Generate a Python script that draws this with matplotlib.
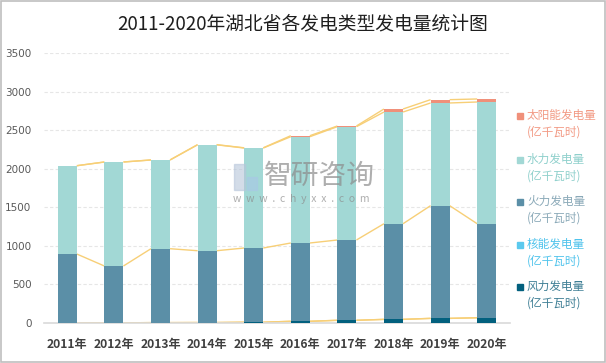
import matplotlib
matplotlib.use("Agg")
import matplotlib.pyplot as plt
from matplotlib.patches import Rectangle
import numpy as np

plt.rcParams['font.family'] = ['Noto Sans CJK SC', 'DejaVu Sans']

years = ['2011年', '2012年', '2013年', '2014年', '2015年', '2016年', '2017年', '2018年', '2019年', '2020年']
wind = [0, 2, 5, 6, 10, 22, 35, 47, 60, 68]
nuclear = [0, 0, 0, 0, 0, 0, 0, 0, 0, 0]
thermal = [894, 737, 958, 931, 962, 1015, 1041, 1240, 1461, 1219]
hydro = [1145, 1348, 1150, 1373, 1296, 1378, 1469, 1448, 1331, 1578]
solar = [0, 0, 1, 2, 3, 13, 9, 39, 43, 39]

series_names = ['风力发电量\n(亿千瓦时)', '核能发电量\n(亿千瓦时)', '火力发电量\n(亿千瓦时)',
                '水力发电量\n(亿千瓦时)', '太阳能发电量\n(亿千瓦时)']
series_vals = [wind, nuclear, thermal, hydro, solar]
colors = ['#02607E', '#5BC9EE', '#5B8FA7', '#A2D8D5', '#F0907A']
text_colors = ['#3F7F95', '#4FC3EC', '#8AA9B8', '#8FD0CC', '#F29A84']

fig = plt.figure(figsize=(6.06, 3.63), dpi=100)
ax = fig.add_axes([44/606, 1-323/363, 466/606, 270/363])

x = np.arange(len(years))
w = 0.41
bottom = np.zeros(len(years))
levels = []
for vals, c in zip(series_vals, colors):
    v = np.array(vals, dtype=float)
    ax.bar(x, v, w, bottom=bottom, color=c, zorder=3, linewidth=0)
    bottom = bottom + v
    levels.append(bottom.copy())

# series lines connecting stack tops
for lev in levels:
    for i in range(len(years)-1):
        ax.plot([x[i]+w/2, x[i+1]-w/2], [lev[i], lev[i+1]], color='#F7CF77',
                lw=1.0, zorder=2, solid_capstyle='butt')

ax.set_xlim(-0.5, len(years)-0.5)
ax.set_ylim(0, 3500)
ax.set_yticks(np.arange(0, 3501, 500))
ax.set_xticks(x)
ax.set_xticklabels(years, fontsize=8.7, fontweight='bold', color='#404040')
ax.tick_params(axis='x', length=0, pad=11)
ax.tick_params(axis='y', length=0, pad=9, labelsize=7.5, labelcolor='#595959')
for lab in ax.get_yticklabels():
    lab.set_family('DejaVu Sans')
ax.grid(axis='y', color='#E6E6E6', lw=0.8, ls=(0, (3, 2)), zorder=0)
for s in ['top', 'right', 'left']:
    ax.spines[s].set_visible(False)
ax.spines['bottom'].set_color('#D9D9D9')
ax.spines['bottom'].set_linewidth(1.2)

# title
fig.text(0.5, 1-24/363, '2011-2020年湖北省各发电类型发电量统计图', ha='center', va='center',
         fontsize=13.5, color='#1E1E1E', fontweight='medium')

# legend (manual)
leg_y = [116, 160, 202, 245, 287]
order = [4, 3, 2, 1, 0]
for yy, k in zip(leg_y, order):
    fig.patches.append(Rectangle((517/606, 1-(yy+3)/363), 6/606, 6/363,
                                 transform=fig.transFigure, color=colors[k]))
    fig.text(527/606, 1-(yy-7)/363, series_names[k], ha='left', va='top',
             fontsize=8.4, color=text_colors[k], linespacing=1.35)

# watermark
fig.text(264/606, 1-176/363, '智研咨询', ha='left', va='center', fontsize=20,
         color='#8C8C8C', alpha=0.7)
fig.text(233/606, 1-199/363, 'w  w  w  .  c  h  y  x  x  .  c  o  m', ha='left', va='center',
         fontsize=7.5, color='#8C8C8C', alpha=0.7)
fig.patches.append(Rectangle((234/606, 1-190/363), 11/606, 26/363, transform=fig.transFigure,
                             color='#B7C6DA', alpha=0.6))
fig.patches.append(Rectangle((247/606, 1-190/363), 10/606, 13/363, transform=fig.transFigure,
                             color='#A9C8E6', alpha=0.6))

# border
fig.patches.append(Rectangle((0.001, 0.002), 0.997, 0.996, transform=fig.transFigure,
                             fill=False, edgecolor='#BFBFBF', lw=1.2))

fig.savefig('out.png', dpi=100)
